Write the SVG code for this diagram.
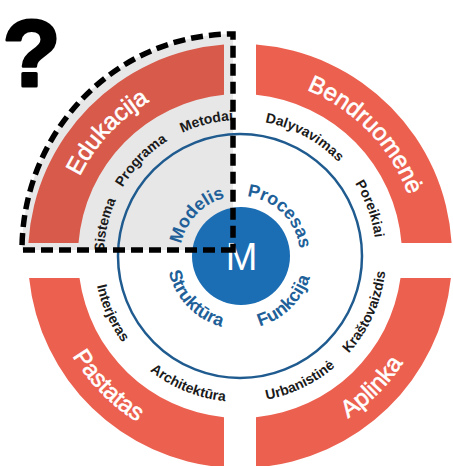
<svg xmlns="http://www.w3.org/2000/svg" xmlns:xlink="http://www.w3.org/1999/xlink" width="453" height="466" viewBox="0 0 453 466">
<style>
.band{fill:#ec604f}
.band-edu{fill:#d85a4b}
.big{font-family:"Liberation Sans",Arial,sans-serif;font-size:24px;fill:#ffffff;stroke:#ffffff;stroke-width:0.6;text-anchor:middle}
.small{font-family:"Liberation Sans",Arial,sans-serif;font-size:14px;font-weight:bold;fill:#1a1a1a;text-anchor:middle}
.blue{font-family:"Liberation Sans",Arial,sans-serif;font-size:18px;font-weight:bold;fill:#215f99;text-anchor:middle}
</style>
<defs>
<path id="cw179" d="M63.72,224.92 A179,179 0 0 1 416.28,224.92"/>
<path id="ccw195" d="M47.96,289.86 A195,195 0 0 0 432.04,289.86"/>
<path id="cw136" d="M106.07,232.38 A136,136 0 0 1 373.93,232.38"/>
<path id="ccw146" d="M96.22,281.35 A146,146 0 0 0 383.78,281.35"/>
<path id="cw60" d="M180.91,245.58 A60,60 0 0 1 299.09,245.58"/>
<path id="ccw73" d="M168.11,268.68 A73,73 0 0 0 311.89,268.68"/>
</defs>
<rect width="453" height="466" fill="#ffffff"/>
<path id="grey-quadrant" d="M233,250 L22,250 A211,216 0 0 1 233,34 Z" fill="#e7e7e7"/>
<g id="connectors"/>
<g id="edukacija">
<path class="band-edu" d="M224,44.6 L224,94.8 A162,162 0 0 0 78.5,243 L28.4,243 A212,212 0 0 1 224,44.6 Z"/>
<text class="big" transform="rotate(-47 240 256)"><textPath xlink:href="#cw179" href="#cw179" startOffset="50%">Edukacija</textPath></text>
</g>
<g id="bendruomene">
<path class="band" d="M256,44.6 A212,212 0 0 1 451.6,243 L401.5,243 A162,162 0 0 0 256,94.8 Z"/>
<text class="big" transform="rotate(46 240 256)"><textPath xlink:href="#cw179" href="#cw179" startOffset="50%">Bendruomenė</textPath></text>
</g>
<g id="pastatas">
<path class="band" d="M29.1,278 L79.5,278 A162,162 0 0 0 224,417.2 L224,467.4 A212,212 0 0 1 29.1,278 Z"/>
<text class="big" transform="rotate(45.5 240 256)"><textPath xlink:href="#ccw195" href="#ccw195" startOffset="50%">Pastatas</textPath></text>
</g>
<g id="aplinka">
<path class="band" d="M256,417.2 A162,162 0 0 0 400.5,278 L450.9,278 A212,212 0 0 1 256,467.4 Z"/>
<text class="big" transform="rotate(-45.2 240 256)"><textPath xlink:href="#ccw195" href="#ccw195" startOffset="50%">Aplinka</textPath></text>
</g>
<g id="ring">
<circle cx="240" cy="256" r="122" fill="none" stroke="#1f5b8f" stroke-width="2.5"/>
</g>
<g id="sistema"><text class="small" transform="rotate(-77 240 256)"><textPath xlink:href="#cw136" href="#cw136" startOffset="50%">Sistema</textPath></text></g>
<g id="programa"><text class="small" transform="rotate(-46 240 256)"><textPath xlink:href="#cw136" href="#cw136" startOffset="50%">Programa</textPath></text></g>
<g id="metodai"><text class="small" transform="rotate(-14 240 256)"><textPath xlink:href="#cw136" href="#cw136" startOffset="50%">Metodai</textPath></text></g>
<g id="dalyvavimas"><text class="small" transform="rotate(28.5 240 256)"><textPath xlink:href="#cw136" href="#cw136" startOffset="50%">Dalyvavimas</textPath></text></g>
<g id="poreikiai"><text class="small" transform="rotate(70 240 256)"><textPath xlink:href="#cw136" href="#cw136" startOffset="50%">Poreikiai</textPath></text></g>
<g id="interjeras"><text class="small" transform="rotate(66 240 256)"><textPath xlink:href="#ccw146" href="#ccw146" startOffset="50%">Interjeras</textPath></text></g>
<g id="architektura"><text class="small" transform="rotate(22 240 256)"><textPath xlink:href="#ccw146" href="#ccw146" startOffset="50%">Architektūra</textPath></text></g>
<g id="urbanistine"><text class="small" transform="rotate(-25.6 240 256)"><textPath xlink:href="#ccw146" href="#ccw146" startOffset="50%">Urbanistinė</textPath></text></g>
<g id="krastovaizdis"><text class="small" transform="rotate(-66 240 256)"><textPath xlink:href="#ccw146" href="#ccw146" startOffset="50%">Kraštovaizdis</textPath></text></g>
<g id="modelis"><text class="blue" transform="rotate(-46.5 240 256)"><textPath xlink:href="#cw60" href="#cw60" startOffset="50%">Modelis</textPath></text></g>
<g id="procesas"><text class="blue" transform="rotate(45 240 256)"><textPath xlink:href="#cw60" href="#cw60" startOffset="50%">Procesas</textPath></text></g>
<g id="struktura"><text class="blue" transform="rotate(46 240 256)"><textPath xlink:href="#ccw73" href="#ccw73" startOffset="50%">Struktūra</textPath></text></g>
<g id="funkcija"><text class="blue" transform="rotate(-44.4 240 256)"><textPath xlink:href="#ccw73" href="#ccw73" startOffset="50%">Funkcija</textPath></text></g>
<g id="m-center">
<circle cx="241" cy="256" r="49" fill="#1b6db4"/>
<text x="241.5" y="270" font-family="'Liberation Sans',Arial,sans-serif" font-size="38" fill="#ffffff" text-anchor="middle">M</text>
</g>
<path id="dashed-outline" d="M233,250 L22,250 A211,216 0 0 1 233,34 Z" fill="none" stroke="#000000" stroke-width="5.5" stroke-dasharray="12 6" stroke-linejoin="miter"/>
<text id="question" x="31.5" y="86" font-family="'Liberation Sans',Arial,sans-serif" font-size="95" font-weight="bold" fill="#000000" stroke="#000000" stroke-width="3" stroke-linejoin="round" text-anchor="middle">?</text>
</svg>
